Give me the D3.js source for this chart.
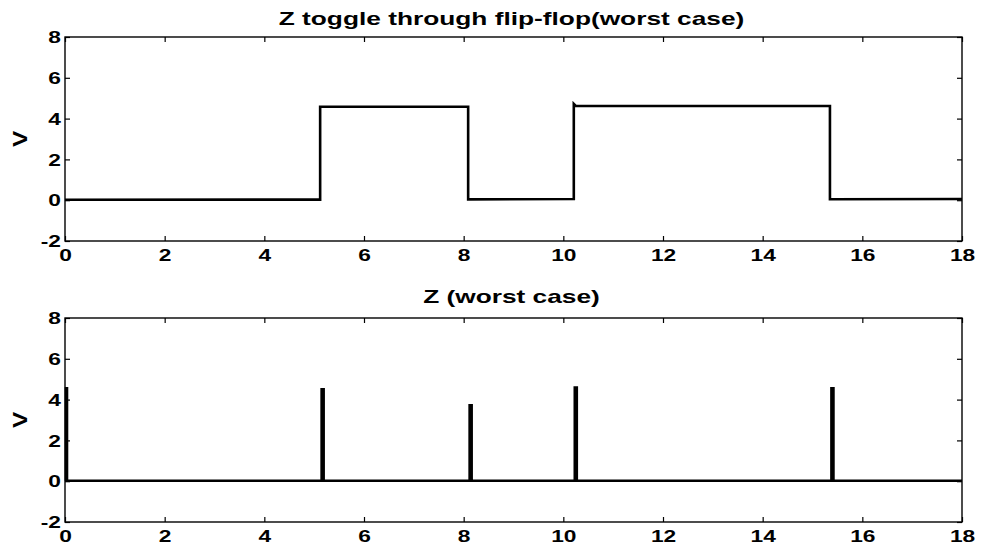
<!DOCTYPE html>
<html>
<head>
<meta charset="utf-8">
<script src="https://cdn.jsdelivr.net/npm/d3@7"></script>
<style>
  html, body { margin: 0; padding: 0; background: #fff; }
  svg { display: block; }
  text { font-family: "Liberation Sans", Arial, Helvetica, sans-serif; font-weight: bold; fill: #000; }
</style>
</head>
<body>
<script>
// ---- data ----
const xTicks = [0, 2, 4, 6, 8, 10, 12, 14, 16, 18];
const yTicks = [-2, 0, 2, 4, 6, 8];
const titles = ["Z toggle through flip-flop(worst case)", "Z (worst case)"];
const yLabel = "V";

// top panel: Z toggle through flip-flop (step waveform)
const toggleT = [0, 5.12, 5.12, 8.09, 8.09, 10.21, 10.21, 10.25, 15.35, 15.35, 18];
const toggleV = [0.02, 0.03, 4.58, 4.58, 0.04, 0.06, 4.72, 4.62, 4.62, 0.05, 0.06];

// bottom panel: Z glitches (narrow spikes)
const spikeT = [0.02, 5.15, 8.12, 10.23, 15.38];
const spikePeak = [4.55, 4.5, 3.72, 4.59, 4.56];
const spikeWidth = [0.02, 0.04, 0.04, 0.04, 0.04];
const baseLevel = 0.02;

// ---- layout ----
const W = 982, H = 548;
const STRETCH = 1.42; // the original typeface is a wide (extended) sans bold
const svg = d3.select("body").append("svg").attr("width", W).attr("height", H);

const panels = [
  { top: 37, bottom: 241, titleY: 25 },
  { top: 318, bottom: 522, titleY: 303 }
];
const left = 65, right = 962;

const x = d3.scaleLinear().domain([0, 18]).range([left, right]);
const fmt = d => String(d); // plain hyphen for negatives

function widen(sel, f) {
  sel.each(function () {
    const n = this.getComputedTextLength();
    if (n > 0) {
      d3.select(this).attr("textLength", n * (f || STRETCH)).attr("lengthAdjust", "spacingAndGlyphs");
    }
  });
}

function buildSpikes() {
  const pts = [[0, baseLevel]];
  spikeT.forEach((t, i) => {
    pts.push([t, baseLevel], [t, spikePeak[i]], [t + spikeWidth[i], spikePeak[i]], [t + spikeWidth[i], baseLevel]);
  });
  pts.push([18, baseLevel]);
  return pts;
}

const series = [
  toggleT.map((t, i) => [t, toggleV[i]]),
  buildSpikes()
];

panels.forEach((p, k) => {
  const y = d3.scaleLinear().domain([-2, 8]).range([p.bottom, p.top]);
  const g = svg.append("g");

  // frame
  g.append("rect")
    .attr("x", left).attr("y", p.top)
    .attr("width", right - left).attr("height", p.bottom - p.top)
    .attr("fill", "none").attr("stroke", "#000").attr("stroke-width", 1.4);

  // axes (inward ticks)
  const ax = g.append("g").attr("transform", `translate(0,${p.bottom})`)
    .call(d3.axisBottom(x).tickValues(xTicks).tickSizeInner(-5).tickSizeOuter(0).tickPadding(9).tickFormat(fmt));
  const axTop = g.append("g").attr("transform", `translate(0,${p.top})`)
    .call(d3.axisTop(x).tickValues(xTicks).tickSizeInner(-5).tickSizeOuter(0).tickFormat(""));
  const ay = g.append("g").attr("transform", `translate(${left},0)`)
    .call(d3.axisLeft(y).tickValues(yTicks).tickSizeInner(-5).tickSizeOuter(0).tickPadding(4).tickFormat(fmt));
  const ayR = g.append("g").attr("transform", `translate(${right},0)`)
    .call(d3.axisRight(y).tickValues(yTicks).tickSizeInner(-5).tickSizeOuter(0).tickFormat(""));

  [ax, axTop, ay, ayR].forEach(a => {
    a.select(".domain").remove();
    a.selectAll("line").attr("stroke", "#000").attr("stroke-width", 1.2);
    a.selectAll("text").attr("font-size", 16).attr("font-family", null).attr("fill", "#000");
  });
  ay.selectAll("text").attr("dy", "0.36em");
  widen(ax.selectAll("text"));
  widen(ay.selectAll("text"));

  // signal
  g.append("path")
    .datum(series[k])
    .attr("fill", "none")
    .attr("stroke", "#000")
    .attr("stroke-width", 2.6)
    .attr("stroke-linejoin", "miter")
    .attr("d", d3.line().x(d => x(d[0])).y(d => y(d[1])));

  // title
  const t = g.append("text")
    .attr("x", (left + right) / 2 - 2).attr("y", p.titleY)
    .attr("text-anchor", "middle").attr("font-size", 18.5)
    .text(titles[k]);
  widen(t);

  // y label
  const v = g.append("text")
    .attr("transform", `translate(27,${(p.top + p.bottom) / 2}) rotate(-90)`)
    .attr("text-anchor", "middle").attr("font-size", 19.5)
    .text(yLabel);
  widen(v, 1.25);
});
</script>
</body>
</html>
